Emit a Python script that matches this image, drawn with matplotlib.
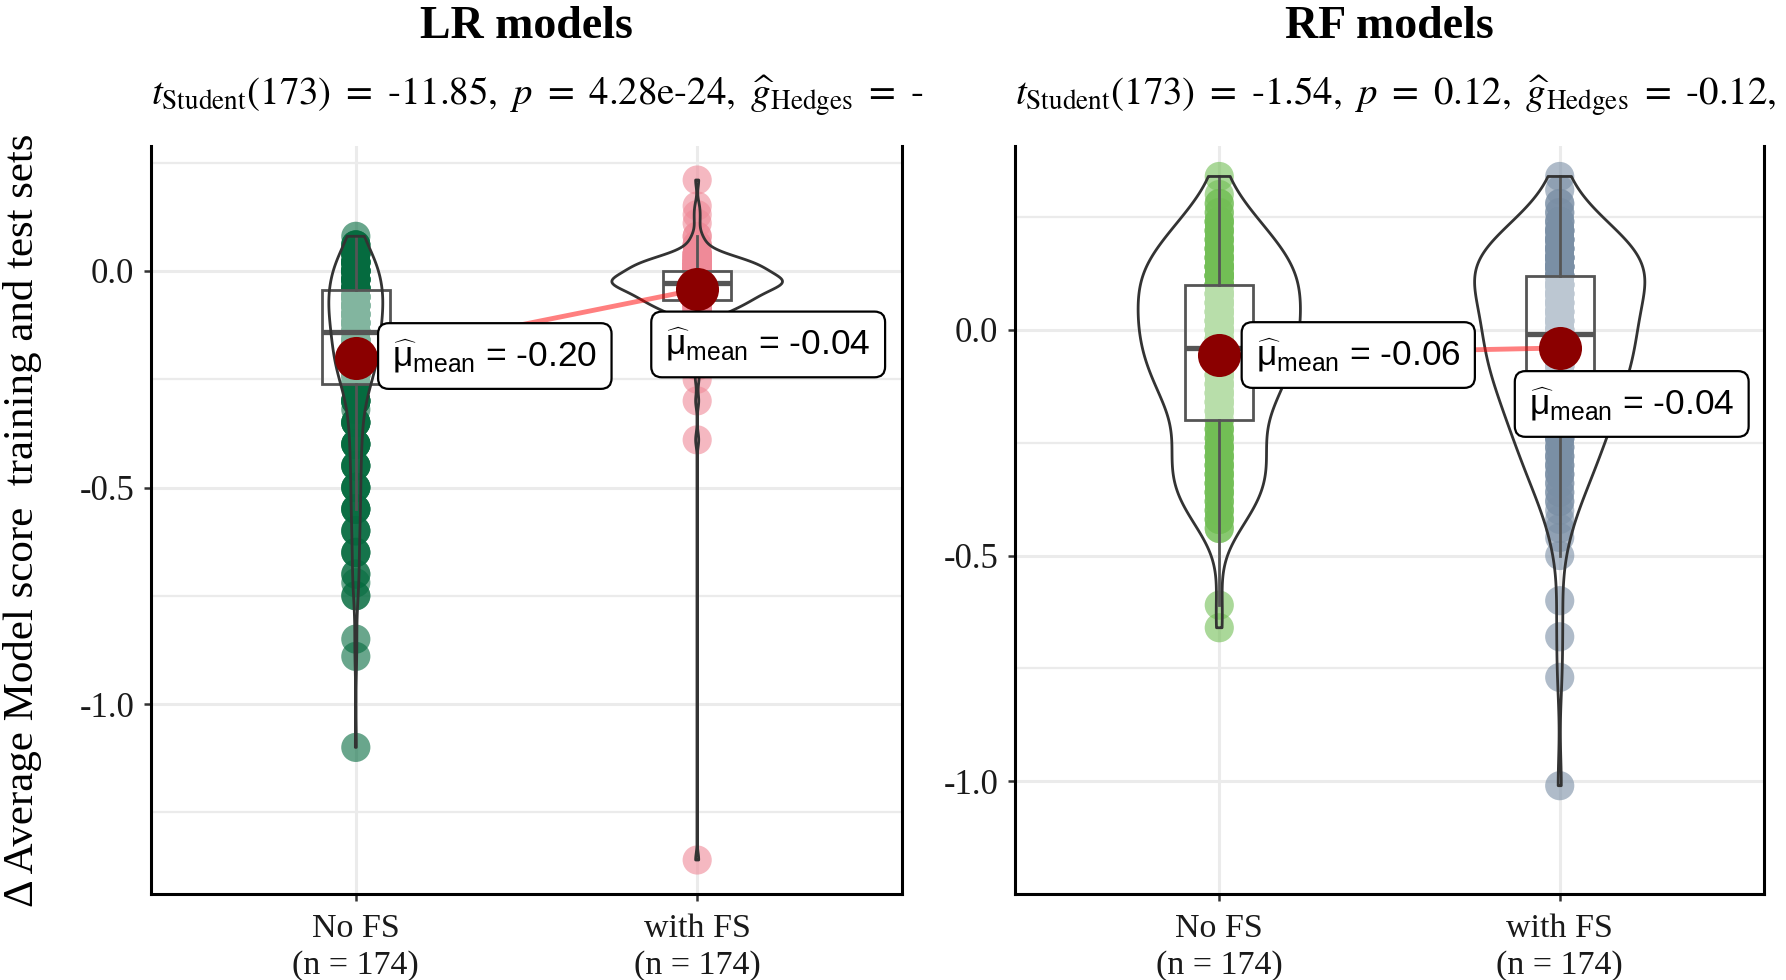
import numpy as np
import matplotlib
matplotlib.use("Agg")
import matplotlib.pyplot as plt
from matplotlib.patches import Rectangle
from matplotlib.transforms import Bbox, TransformedBbox

plt.rcParams['font.family'] = ['Liberation Serif', 'DejaVu Serif']
plt.rcParams['mathtext.fontset'] = 'custom'
plt.rcParams['mathtext.rm'] = 'Liberation Sans'
plt.rcParams['mathtext.it'] = 'Liberation Sans:italic'
plt.rcParams['mathtext.bf'] = 'Liberation Sans:bold'

groups = ["No FS", "with FS"]
n_obs = [174, 174]

# values: score levels and how many runs sit on each
lr_nofs_vals = [0.08, 0.06, 0.04, 0.02, 0.0, -0.02, -0.04,
                -0.06, -0.08, -0.10, -0.12, -0.14,
                -0.16, -0.18, -0.20, -0.22, -0.24, -0.26,
                -0.30, -0.32, -0.35, -0.40, -0.45, -0.50, -0.55, -0.60,
                -0.65, -0.70, -0.72, -0.75, -0.85, -0.89, -1.10]
lr_nofs_counts = [1, 4, 6, 8, 9, 8, 8,
                  10, 10, 9, 8, 7,
                  8, 8, 7, 7, 7, 6,
                  6, 1, 5, 5, 4, 4, 4, 3,
                  3, 2, 1, 2, 1, 1, 1]

lr_fs_vals = [0.21, 0.15, 0.13, 0.11, 0.08, 0.06, 0.04, 0.03, 0.02, 0.01,
              0.0, -0.01, -0.02, -0.025,
              -0.03, -0.04, -0.05, -0.06,
              -0.07, -0.08, -0.09, -0.10, -0.12, -0.14, -0.17, -0.20,
              -0.22, -0.25, -0.30, -0.39, -1.36]
lr_fs_counts = [1, 1, 1, 1, 2, 3, 5, 7, 10, 12,
                11, 11, 11, 11,
                11, 11, 11, 10,
                8, 8, 6, 5, 4, 3, 3, 2,
                1, 1, 1, 1, 1]

rf_nofs_vals = [0.34, 0.30, 0.28, 0.26, 0.24, 0.22, 0.20, 0.18, 0.16, 0.14, 0.12,
                0.10, 0.08, 0.06, 0.04, 0.02, 0.0, -0.02,
                -0.04, -0.06, -0.08, -0.10, -0.12, -0.14, -0.16, -0.18, -0.20,
                -0.22, -0.24, -0.26, -0.28, -0.30, -0.32, -0.34, -0.36, -0.38,
                -0.40, -0.42, -0.44, -0.61, -0.66]
rf_nofs_counts = [1, 1, 2, 2, 4, 4, 4, 5, 5, 7, 8,
                  6, 6, 6, 6, 7, 7, 5,
                  7, 6, 6, 5, 5, 5, 5, 4, 2,
                  3, 3, 4, 4, 4, 4, 4, 4, 3,
                  3, 3, 2, 1, 1]

rf_fs_vals = [0.34, 0.31, 0.28, 0.26, 0.24, 0.22, 0.20, 0.18, 0.16, 0.14,
              0.12, 0.10, 0.08, 0.06, 0.04, 0.02, 0.0,
              -0.02, -0.04, -0.06, -0.08, -0.10, -0.12, -0.14, -0.16,
              -0.18, -0.20, -0.22, -0.24, -0.26, -0.28, -0.30, -0.32,
              -0.34, -0.36, -0.38, -0.40, -0.42, -0.44, -0.46,
              -0.50, -0.60, -0.68, -0.77, -1.01]
rf_fs_counts = [1, 1, 2, 2, 3, 5, 6, 6, 8, 9,
                7, 7, 6, 6, 6, 6, 6,
                6, 6, 6, 6, 5, 5, 5, 5,
                4, 4, 4, 4, 3, 3, 3, 3,
                2, 2, 2, 1, 1, 1, 1,
                1, 1, 1, 1, 1]

lr_colors = ["#056B3F", "#EF8A98"]
rf_colors = ["#72BE55", "#7A8FA5"]

titles = ["LR models", "RF models"]
subtitles = [
    r"$t_{\mathrm{Student}}(173)\ =\ \text{-11.85},\ p\ =\ \text{4.28e-24},\ "
    r"\widehat{g}_{\mathrm{Hedges}}\ =\ \text{-0.90},$",
    r"$t_{\mathrm{Student}}(173)\ =\ \text{-1.54},\ p\ =\ \text{0.12},\ "
    r"\widehat{g}_{\mathrm{Hedges}}\ =\ \text{-0.12},$",
]
ylabel = "Δ Average Model score  training and test sets"


def kde(x, grid):
    # gaussian density with R's nrd0 bandwidth
    n = len(x)
    q75, q25 = np.percentile(x, [75, 25])
    bw = 0.9 * min(np.std(x, ddof=1), (q75 - q25) / 1.34) * n ** -0.2
    z = (grid[:, None] - x[None, :]) / bw
    return np.exp(-0.5 * z ** 2).sum(axis=1) / (n * bw * np.sqrt(2 * np.pi))


def draw_panel(ax, data, colors, label_offsets):
    pos = [1, 2]
    # points
    for p, x, c in zip(pos, data, colors):
        ax.scatter(np.full(len(x), p), x, s=21 ** 2, color=c, alpha=0.6,
                   edgecolors='none', zorder=2)
    # boxes
    for p, x in zip(pos, data):
        q1, med, q3 = np.percentile(x, [25, 50, 75])
        iqr = q3 - q1
        hi = x[x <= q3 + 1.5 * iqr].max()
        lo = x[x >= q1 - 1.5 * iqr].min()
        ax.add_patch(Rectangle((p - 0.1, q1), 0.2, q3 - q1, facecolor=(1, 1, 1, 0.5),
                               edgecolor='#555555', lw=2.0, zorder=3))
        ax.plot([p - 0.1, p + 0.1], [med, med], color='#555555', lw=3.8,
                solid_capstyle='butt', zorder=3)
        ax.plot([p, p], [q3, hi], color='#555555', lw=2.0, zorder=3)
        ax.plot([p, p], [lo, q1], color='#555555', lw=2.0, zorder=3)
    # violins, scaled to equal area
    grids = [np.linspace(x.min(), x.max(), 512) for x in data]
    dens = [kde(x, g) for x, g in zip(data, grids)]
    dmax = max(d.max() for d in dens)
    for p, g, d in zip(pos, grids, dens):
        half = d / dmax * 0.25
        ax.fill_betweenx(g, p - half, p + half, facecolor='none',
                         edgecolor='#333333', lw=2.0, zorder=4)
    # means
    means = [x.mean() for x in data]
    ax.plot(pos, means, color='red', alpha=0.5, lw=3.5, zorder=5)
    ax.plot(pos, means, 'o', ms=31, color='#8B0000', mec='none', zorder=6)
    for p, m, off in zip(pos, means, label_offsets):
        ax.annotate(r"$\widehat{\mathrm{μ}}_{\mathrm{mean}}$" + f" = {m:.2f}",
                    xy=(p, m), xytext=off, textcoords='offset pixels',
                    ha='center', va='center', fontsize=25.5, family='Liberation Sans',
                    bbox=dict(boxstyle='round,pad=0.4,rounding_size=0.3',
                              fc='white', ec='black', lw=1.6), zorder=7)

    lo_all = min(x.min() for x in data)
    hi_all = max(x.max() for x in data)
    pad = 0.05 * (hi_all - lo_all)
    ax.set_ylim(lo_all - pad, hi_all + pad)
    ax.set_xlim(0.4, 2.6)
    yt = [0.0, -0.5, -1.0]
    ax.set_yticks(yt)
    ax.set_yticklabels([f"{v:.1f}" for v in yt])
    ax.set_yticks([0.25, -0.25, -0.75, -1.25], minor=True)
    ax.set_xticks(pos)
    ax.set_xticklabels([f"{g}\n(n = {n})" for g, n in zip(groups, n_obs)],
                       linespacing=1.25)
    ax.set_axisbelow(True)
    ax.grid(True, which='major', color='#EBEBEB', lw=2.2)
    ax.grid(True, which='minor', axis='y', color='#EBEBEB', lw=1.6)
    ax.spines['top'].set_visible(False)
    for s in ['left', 'right', 'bottom']:
        ax.spines[s].set_linewidth(2.2)
        ax.spines[s].set_color('black')
    ax.tick_params(which='major', direction='out', length=5, width=1.8,
                   color='#333333', labelsize=25, labelcolor='#1a1a1a', pad=7)
    ax.tick_params(axis='y', which='minor', length=0)
    ax.tick_params(axis='x', labelsize=24.5, pad=9)


W, H = 1786, 980
fig = plt.figure(figsize=(W / 100, H / 100), dpi=100)
ax1 = fig.add_axes([151 / W, 1 - 894 / H, 751 / W, 748 / H])
ax2 = fig.add_axes([1015 / W, 1 - 894 / H, 749 / W, 748 / H])

lr = [np.repeat(lr_nofs_vals, lr_nofs_counts), np.repeat(lr_fs_vals, lr_fs_counts)]
rf = [np.repeat(rf_nofs_vals, rf_nofs_counts), np.repeat(rf_fs_vals, rf_fs_counts)]

draw_panel(ax1, lr, lr_colors, [(139, 2), (71, -55)])
draw_panel(ax2, rf, rf_colors, [(139, 0), (72, -56)])

for ax, t, st, clip in zip([ax1, ax2], titles, subtitles, [923 / W, 1.0]):
    b = ax.get_position()
    fig.text((b.x0 + b.x1) / 2, 1 - 38 / H, t, ha='center', va='baseline',
             fontsize=33, fontweight='bold')
    txt = fig.text(b.x0, 1 - 105 / H, st, ha='left', va='baseline', fontsize=28,
                   math_fontfamily='stix')
    txt.set_clip_box(TransformedBbox(Bbox.from_extents(0, 0, clip, 1), fig.transFigure))
    txt.set_clip_on(True)

fig.text(23 / W, 1 - 520 / H, ylabel, rotation=90, ha='center', va='center',
         fontsize=31)

fig.savefig("out.png", dpi=100, facecolor='white')
